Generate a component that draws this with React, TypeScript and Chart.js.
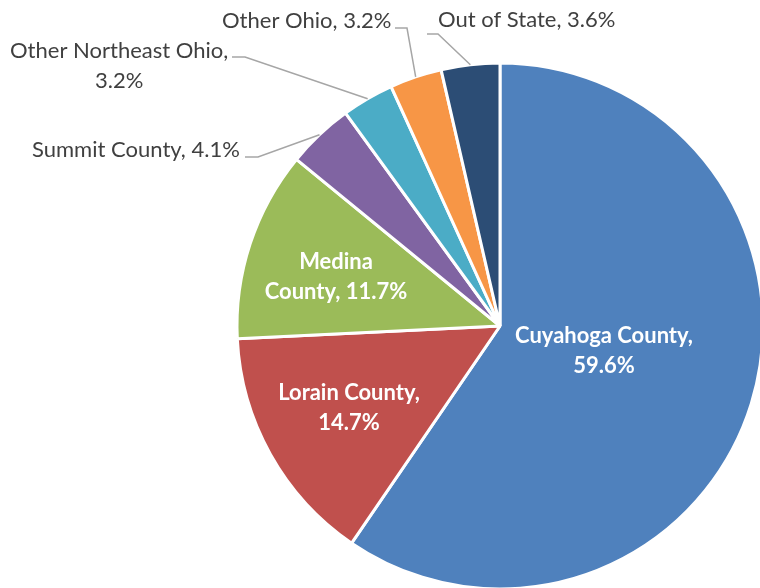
import React, { useEffect, useRef } from "react";
import { Chart, registerables } from "chart.js";

Chart.register(...registerables);

const categories = [
  "Cuyahoga County",
  "Lorain County",
  "Medina County",
  "Summit County",
  "Other Northeast Ohio",
  "Other Ohio",
  "Out of State",
];
const shares = [59.6, 14.7, 11.7, 4.1, 3.2, 3.2, 3.6];
const sliceColors = ["#4F81BD", "#C0504D", "#9BBB59", "#8064A2", "#4BACC6", "#F79646", "#2C4D75"];

// label text lines per slice
const labelLines: string[][] = [
  ["Cuyahoga County,", "59.6%"],
  ["Lorain County,", "14.7%"],
  ["Medina", "County, 11.7%"],
  ["Summit County, 4.1%"],
  ["Other Northeast Ohio,", "3.2%"],
  ["Other Ohio, 3.2%"],
  ["Out of State, 3.6%"],
];

// layout: inside labels (center x, first baseline y)
const insideLayout: Record<number, { x: number; y: number }> = {
  0: { x: 604, y: 343 },
  1: { x: 349, y: 400 },
  2: { x: 336, y: 269 },
};
// layout: outside labels (x, baseline y, align) and leader start/elbow
const outsideLayout: Record<number, { x: number; y: number; align: CanvasTextAlign; lead: [number, number][] }> = {
  3: { x: 32, y: 157, align: "left", lead: [[245, 157], [258, 157]] },
  4: { x: 10, y: 58, align: "left", lead: [[232, 57], [245, 57]] },
  5: { x: 222, y: 28, align: "left", lead: [[395, 28], [407, 28]] },
  6: { x: 438, y: 27, align: "left", lead: [[427, 34], [438, 34]] },
};

const FONT = "Lato, 'Noto Sans', sans-serif";

const labelPlugin = {
  id: "pieLabels",
  afterDraw(chart: any) {
    const ctx = chart.ctx as CanvasRenderingContext2D;
    const meta = chart.getDatasetMeta(0);
    ctx.save();
    // fit font sizes to the reference text widths
    ctx.font = `100px ${FONT}`;
    const outSize = (208 / ctx.measureText("Summit County, 4.1%").width) * 100;
    ctx.font = `bold 100px ${FONT}`;
    const inSize = (178 / ctx.measureText("Cuyahoga County,").width) * 100;
    const lh = 29.5;

    meta.data.forEach((arc: any, i: number) => {
      const p = arc.getProps(["x", "y", "startAngle", "endAngle", "outerRadius"], true);
      const mid = (p.startAngle + p.endAngle) / 2;
      if (insideLayout[i]) {
        const L = insideLayout[i];
        ctx.font = `bold ${inSize}px ${FONT}`;
        ctx.fillStyle = "#FFFFFF";
        ctx.textAlign = "center";
        ctx.textBaseline = "alphabetic";
        labelLines[i].forEach((t, k) => ctx.fillText(t, L.x, L.y + k * lh));
      } else if (outsideLayout[i]) {
        const L = outsideLayout[i];
        const ex = p.x + Math.cos(mid) * p.outerRadius;
        const ey = p.y + Math.sin(mid) * p.outerRadius;
        ctx.strokeStyle = "#A6A6A6";
        ctx.lineWidth = 1.5;
        ctx.beginPath();
        ctx.moveTo(L.lead[0][0], L.lead[0][1]);
        ctx.lineTo(L.lead[1][0], L.lead[1][1]);
        ctx.lineTo(ex, ey);
        ctx.stroke();
        ctx.font = `${outSize}px ${FONT}`;
        ctx.fillStyle = "#404040";
        ctx.textBaseline = "alphabetic";
        if (labelLines[i].length === 1) {
          ctx.textAlign = L.align;
          ctx.fillText(labelLines[i][0], L.x, L.y);
        } else {
          ctx.textAlign = "left";
          ctx.fillText(labelLines[i][0], L.x, L.y);
          const w = ctx.measureText(labelLines[i][0]).width;
          ctx.textAlign = "center";
          ctx.fillText(labelLines[i][1], L.x + w / 2, L.y + lh);
        }
      }
    });
    ctx.restore();
  },
};

export default function App() {
  const ref = useRef<HTMLCanvasElement>(null);
  useEffect(() => {
    if (!ref.current) return;
    const chart = new Chart(ref.current, {
      type: "pie",
      data: {
        labels: categories,
        datasets: [
          {
            data: shares,
            backgroundColor: sliceColors,
            borderColor: "#FFFFFF",
            borderWidth: 3,
          },
        ],
      },
      options: {
        responsive: false,
        animation: false,
        devicePixelRatio: 1,
        layout: { padding: { left: 235.5, top: 61.5, right: 15.5, bottom: 9.5 } },
        plugins: {
          legend: { display: false },
          tooltip: { enabled: false },
        },
      },
      plugins: [labelPlugin],
    });
    return () => chart.destroy();
  }, []);
  return (
    <div
      style={{
        position: "fixed",
        left: 0,
        top: 0,
        width: 760,
        height: 588,
        overflow: "hidden",
        background: "#FFFFFF",
      }}
    >
      <canvas ref={ref} width={780} height={600} style={{ width: 780, height: 600, display: "block" }} />
    </div>
  );
}
